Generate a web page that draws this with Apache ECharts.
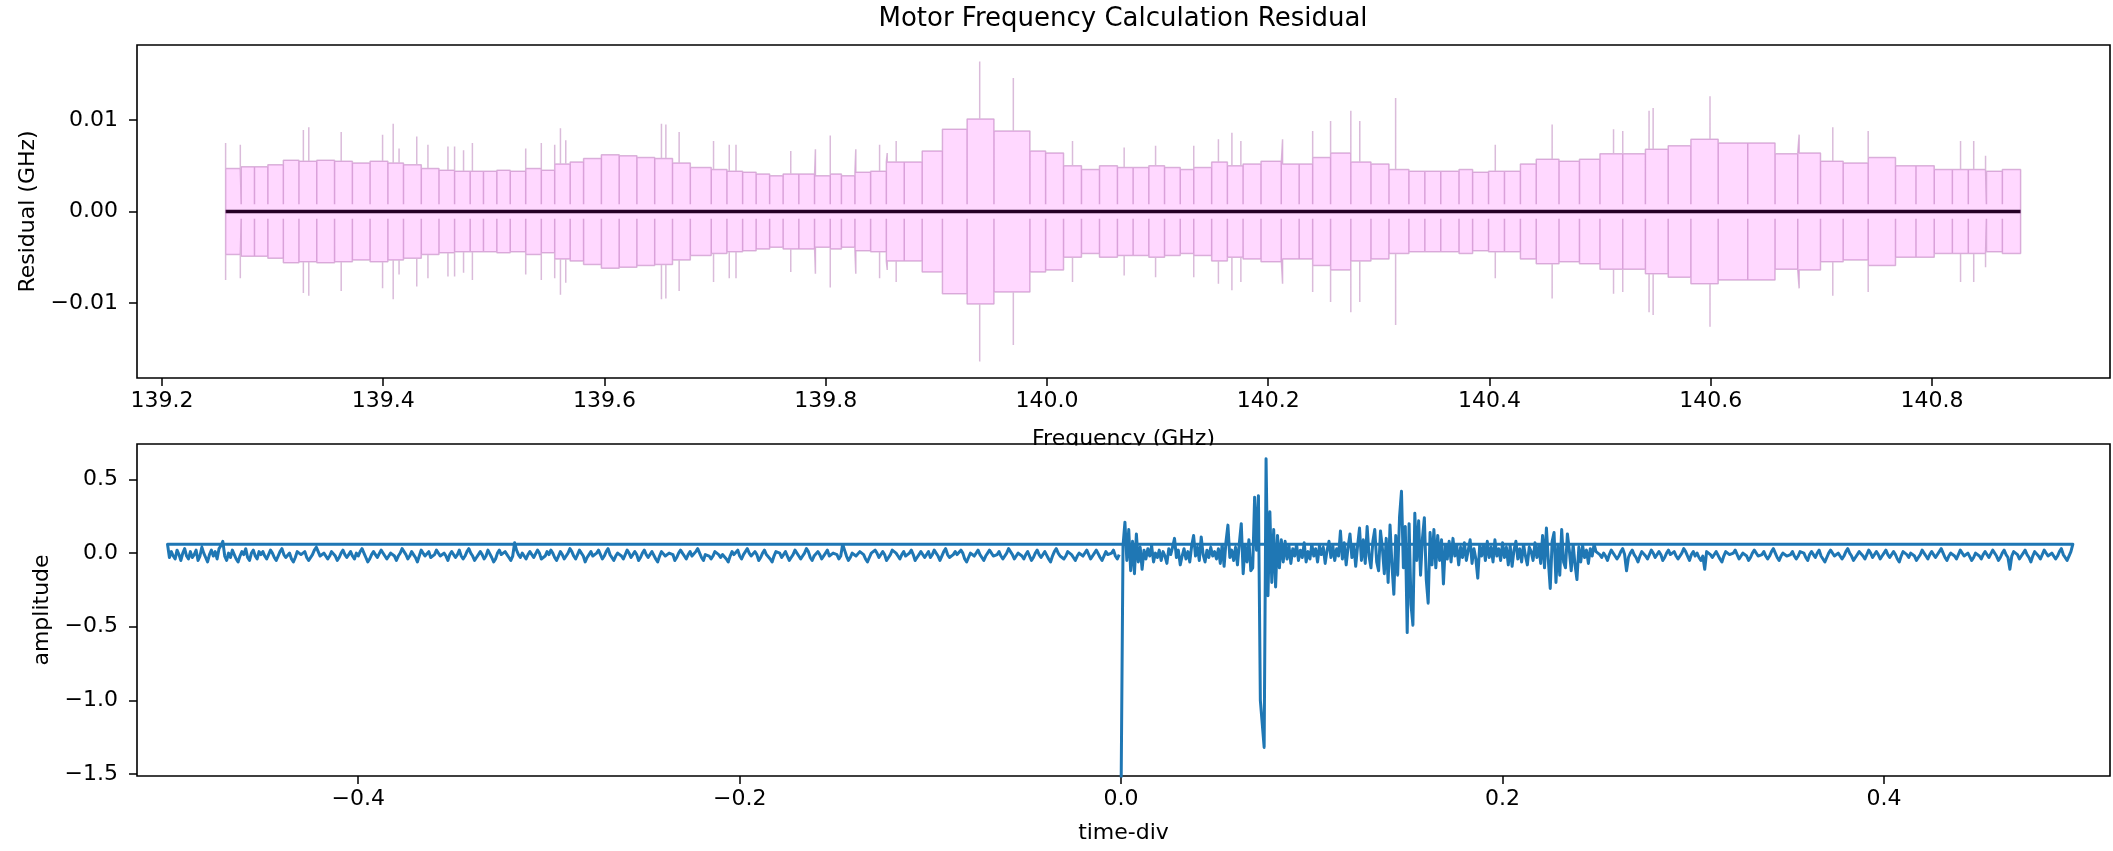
<!DOCTYPE html>
<html><head><meta charset="utf-8">
<script src="https://cdn.jsdelivr.net/npm/echarts@6/dist/echarts.min.js"></script>
<style>html,body{margin:0;padding:0;background:#fff}#c{width:2113px;height:851px}</style>
</head><body><div id="c"></div>
<script>
// ---------- top panel: residual envelope (GHz) ----------
const lobeEdges = [
  139.2575, 139.2716, 139.2836, 139.2957, 139.3097, 139.3238, 139.3399, 139.3560, 139.3721, 139.3881,
  139.4042, 139.4183, 139.4344, 139.4504, 139.4645, 139.4786, 139.4906, 139.5027, 139.5148, 139.5288,
  139.5429, 139.5550, 139.5690, 139.5811, 139.5972, 139.6133, 139.6293, 139.6454, 139.6615, 139.6776,
  139.6965, 139.7107, 139.7249, 139.7371, 139.7493, 139.7615, 139.7757, 139.7899, 139.8041, 139.8142,
  139.8264, 139.8406, 139.8548, 139.8710, 139.8872, 139.9055, 139.9278, 139.9521, 139.9846, 139.9988,
  140.0150, 140.0312, 140.0475, 140.0637, 140.0779, 140.0921, 140.1063, 140.1205, 140.1327, 140.1489,
  140.1631, 140.1773, 140.1935, 140.2118, 140.2280, 140.2402, 140.2564, 140.2747, 140.2929, 140.3092,
  140.3272, 140.3416, 140.3560, 140.3725, 140.3848, 140.3992, 140.4136, 140.4280, 140.4423, 140.4629,
  140.4814, 140.4999, 140.5205, 140.5410, 140.5616, 140.5821, 140.6068, 140.6335, 140.6582, 140.6787,
  140.6993, 140.7198, 140.7424, 140.7671, 140.7856, 140.8021, 140.8185, 140.8329, 140.8493, 140.8637,
  140.8802
];
const lobeTops = [
  0.0047, 0.0049, 0.0049, 0.0051, 0.0056, 0.0055, 0.0056, 0.0055, 0.0053, 0.0055,
  0.0053, 0.0051, 0.0047, 0.0045, 0.0044, 0.0044, 0.0044, 0.0045, 0.0044, 0.0047,
  0.0045, 0.0052, 0.0054, 0.0058, 0.0062, 0.0061, 0.0059, 0.0058, 0.0053, 0.0048,
  0.0046, 0.0044, 0.0043, 0.0041, 0.0039, 0.0041, 0.0041, 0.0039, 0.0041, 0.0039,
  0.0043, 0.0044, 0.0054, 0.0054, 0.0066, 0.0090, 0.0101, 0.0088, 0.0066, 0.0064,
  0.0050, 0.0046, 0.0050, 0.0048, 0.0048, 0.0050, 0.0048, 0.0046, 0.0048, 0.0054,
  0.0050, 0.0052, 0.0055, 0.0052, 0.0052, 0.0059, 0.0064, 0.0054, 0.0052, 0.0046,
  0.0044, 0.0044, 0.0044, 0.0046, 0.0043, 0.0044, 0.0044, 0.0052, 0.0057, 0.0055,
  0.0057, 0.0063, 0.0063, 0.0068, 0.0072, 0.0079, 0.0075, 0.0075, 0.0063, 0.0064,
  0.0055, 0.0053, 0.0059, 0.0050, 0.0050, 0.0046, 0.0046, 0.0046, 0.0044, 0.0046
];
const spikeFreq = [
  139.2575, 139.2708, 139.3278, 139.3327, 139.3620, 139.3994, 139.4090, 139.4143, 139.4303, 139.4404,
  139.4585, 139.4645, 139.4726, 139.4806, 139.5288, 139.5429, 139.5550, 139.5602, 139.5650, 139.6515,
  139.6555, 139.6675, 139.6986, 139.7128, 139.7189, 139.7684, 139.7907, 139.8041, 139.8272, 139.8487,
  139.8556, 139.8637, 139.9392, 139.9696, 140.0231, 140.0698, 140.0982, 140.1327, 140.1550, 140.1672,
  140.1753, 140.2130, 140.2402, 140.2564, 140.2747, 140.2828, 140.3152, 140.4053, 140.4567, 140.5122,
  140.5205, 140.5443, 140.5480, 140.5994, 140.6800, 140.7104, 140.7424, 140.8259, 140.8378, 140.8485
];
const spikeHeight = [
  0.0075, 0.0073, 0.0089, 0.0092, 0.0087, 0.0084, 0.0096, 0.0069, 0.0082, 0.0073,
  0.0071, 0.0071, 0.0067, 0.0075, 0.0069, 0.0075, 0.0073, 0.0091, 0.0078, 0.0096,
  0.0095, 0.0087, 0.0077, 0.0073, 0.0073, 0.0066, 0.0068, 0.0083, 0.0068, 0.0073,
  0.0064, 0.0077, 0.0164, 0.0146, 0.0077, 0.0070, 0.0072, 0.0072, 0.0079, 0.0086,
  0.0077, 0.0079, 0.0088, 0.0099, 0.0110, 0.0099, 0.0124, 0.0073, 0.0095, 0.0090,
  0.0088, 0.0110, 0.0113, 0.0126, 0.0084, 0.0092, 0.0088, 0.0077, 0.0077, 0.0061
];
const notchLevel = 0.0008;
const residualFreq = [139.2575, 140.8802];
const residualValue = [0, 0];
const freqTicks = [139.2, 139.4, 139.6, 139.8, 140.0, 140.2, 140.4, 140.6, 140.8];
const residualTicks = [-0.01, 0, 0.01];

// ---------- bottom panel: amplitude vs time-div ----------
const sampleStep = 0.001;
const ampFromZero = [ // t = 0, 0.001, ... 0.499
  -1.60, 0.05, 0.21, -0.05, 0.16, -0.12, 0.08, -0.14, 0.13, -0.06, 0.04, -0.11, 0.02, -0.04, 0.03, -0.02, 0.05, -0.06, 0.00, -0.03,
  0.02, -0.05, 0.01, -0.02, -0.07, 0.03, -0.01, 0.04, 0.10, -0.03, 0.02, -0.08, -0.02, 0.03, -0.04, 0.01, -0.06, 0.05, 0.12, -0.02,
  0.04, -0.05, 0.11, -0.01, -0.06, 0.02, -0.03, 0.04, -0.02, 0.01,
  -0.04, 0.03, -0.07, 0.06, -0.09, 0.08, 0.19, -0.03, 0.02, -0.05, 0.04, -0.08, 0.07, 0.20, -0.14, 0.05, -0.06, 0.09, -0.12, -0.10,
  0.38, 0.02, 0.39, -1.00, -1.01, -1.32, 0.64, -0.29, 0.28, -0.20, 0.16, -0.23, 0.12, -0.10, 0.09, -0.06, 0.08, -0.04, 0.05, -0.07,
  0.03, -0.02, 0.06, -0.05, 0.02, -0.03, 0.07, -0.06, 0.01, -0.04,
  0.06, -0.02, 0.03, -0.06, 0.05, -0.01, 0.04, -0.07, 0.02, 0.08, -0.03, 0.05, -0.05, 0.03, -0.02, 0.15, -0.04, 0.07, -0.08, 0.04,
  0.13, -0.03, 0.06, -0.09, 0.05, 0.17, -0.05, 0.09, -0.07, 0.18, -0.02, -0.10, 0.08, 0.16, -0.06, -0.12, 0.15, 0.03, -0.14, 0.10,
  -0.20, 0.19, -0.08, -0.28, 0.12, -0.15, 0.25, 0.42, -0.10, 0.18,
  -0.54, 0.20, -0.35, -0.49, 0.27, -0.05, 0.22, -0.15, 0.10, 0.24, -0.18, -0.34, 0.14, -0.08, 0.16, -0.10, 0.12, -0.05, 0.09, -0.21,
  0.06, -0.04, 0.08, -0.06, 0.10, -0.02, 0.05, -0.08, 0.04, -0.03, 0.07, -0.05, 0.02, 0.09, -0.07, 0.03, -0.04, -0.17, 0.05, -0.02,
  0.06, -0.05, 0.08, -0.03, 0.04, -0.06, 0.09, -0.02, 0.03, -0.05,
  0.07, -0.03, 0.04, -0.08, 0.05, -0.09, 0.02, 0.08, -0.04, 0.03, -0.06, 0.06, -0.02, -0.08, 0.04, 0.01, -0.05, 0.07, -0.03, 0.05,
  -0.07, 0.12, -0.10, 0.17, -0.05, -0.24, 0.08, 0.14, -0.20, 0.05, -0.15, 0.16, -0.06, -0.10, 0.13, 0.02, -0.12, 0.06, -0.08, -0.18,
  0.04, -0.06, 0.05, -0.03, 0.02, -0.07, 0.03, -0.02, 0.06, 0.01,
  0.02, -0.01, -0.03, 0.00, -0.02, -0.05, -0.01, 0.02, 0.01, -0.02, -0.04, -0.02, 0.01, 0.03, -0.01, -0.12, -0.03, 0.00, 0.02, -0.01,
  -0.03, -0.06, -0.02, 0.01, 0.00, -0.02, -0.04, -0.01, 0.02, 0.00, -0.03, -0.02, 0.01, -0.01, -0.05, -0.03, 0.00, 0.02, -0.01, -0.02,
  0.01, -0.02, -0.04, -0.03, 0.00, 0.03, 0.01, -0.02, -0.05, -0.01,
  0.01, -0.02, 0.00, -0.03, -0.05, -0.02, -0.11, 0.01, 0.02, -0.01, -0.03, -0.02, 0.01, 0.00, -0.04, -0.06, -0.02, 0.01, 0.02, -0.01,
  -0.02, 0.00, 0.02, -0.01, -0.04, -0.03, 0.00, 0.01, -0.02, -0.05, -0.03, 0.00, 0.02, 0.01, -0.02, -0.03, -0.01, 0.01, -0.02, -0.04,
  -0.02, 0.01, 0.03, 0.00, -0.03, -0.05, -0.02, 0.00, 0.01, -0.02,
  -0.03, -0.01, 0.01, -0.02, -0.04, -0.02, 0.01, 0.02, 0.00, -0.03, -0.05, -0.01, 0.01, -0.01, -0.03, 0.00, 0.02, -0.02, -0.04, -0.06,
  -0.03, 0.00, 0.02, 0.01, -0.02, -0.03, 0.00, -0.01, -0.04, -0.02, 0.01, 0.03, 0.00, -0.02, -0.05, -0.03, -0.01, 0.01, 0.00, -0.02,
  -0.04, -0.01, 0.02, 0.00, -0.03, -0.02, 0.01, -0.01, -0.04, -0.02,
  0.00, 0.02, -0.01, -0.03, -0.02, 0.01, -0.01, -0.04, -0.06, -0.02, 0.01, 0.02, -0.01, -0.03, 0.00, 0.01, -0.02, -0.05, -0.03, -0.01,
  0.02, 0.00, -0.02, -0.04, -0.01, 0.01, -0.01, -0.03, -0.02, 0.01, 0.03, 0.00, -0.03, -0.05, -0.02, 0.00, 0.01, -0.02, -0.04, -0.01,
  0.02, 0.01, -0.02, -0.03, 0.00, -0.01, -0.05, -0.03, 0.00, 0.01,
  -0.02, -0.04, -0.01, 0.01, 0.00, -0.03, -0.02, 0.02, 0.01, -0.02, -0.05, -0.03, 0.00, 0.02, -0.01, -0.03, -0.11, -0.02, 0.01, 0.02,
  -0.01, -0.04, -0.02, 0.00, 0.02, -0.01, -0.03, -0.06, -0.02, 0.01, 0.00, -0.02, -0.04, -0.01, 0.02, 0.01, -0.02, -0.03, 0.00, -0.01,
  -0.04, -0.02, 0.01, 0.03, -0.01, -0.03, -0.05, -0.02, 0.01, 0.06
];
const ampFromMinusHalf = [ // t = -0.5, -0.499, ... -0.001
  0.06, -0.03, 0.01, -0.02, -0.04, 0.02, -0.01, -0.05, 0.00, 0.03, -0.02, -0.04, 0.01, -0.03, -0.01, 0.02, -0.05, -0.02, 0.04, 0.00,
  -0.03, -0.06, -0.01, 0.02, -0.02, 0.01, -0.04, 0.03, 0.05, 0.08, -0.02, -0.05, 0.00, -0.03, 0.02, -0.01, -0.04, -0.06, -0.02, 0.01,
  -0.01, 0.03, -0.03, -0.05, 0.00, 0.02, -0.02, -0.04, 0.01, -0.01,
  0.01, -0.02, -0.04, -0.01, 0.02, 0.00, -0.03, -0.05, -0.02, 0.01, 0.03, -0.01, -0.03, -0.02, 0.00, -0.04, -0.06, -0.03, 0.01, 0.02,
  -0.01, -0.02, 0.01, -0.03, -0.05, -0.04, -0.01, 0.02, 0.04, 0.01, -0.02, -0.03, 0.00, -0.01, -0.04, -0.02, 0.01, 0.00, -0.02, -0.05,
  -0.03, 0.00, 0.02, -0.01, -0.03, -0.01, 0.01, -0.02, -0.04, 0.00,
  -0.02, 0.01, 0.03, 0.00, -0.03, -0.06, -0.04, -0.01, 0.01, -0.01, -0.03, -0.02, 0.02, 0.01, -0.02, -0.04, -0.03, 0.00, 0.01, -0.02,
  -0.05, -0.02, 0.00, 0.03, 0.01, -0.01, -0.04, -0.02, 0.01, -0.01, -0.03, -0.06, -0.02, 0.02, 0.00, -0.02, -0.01, 0.01, -0.03, -0.04,
  -0.01, 0.02, 0.01, -0.02, -0.03, 0.00, -0.02, -0.05, -0.01, 0.01,
  0.00, -0.03, -0.01, 0.02, -0.02, -0.04, -0.02, 0.01, 0.03, 0.00, -0.02, -0.05, -0.03, -0.01, 0.01, -0.01, -0.04, -0.02, 0.02, 0.01,
  -0.03, -0.06, -0.04, 0.00, 0.02, -0.01, -0.02, 0.01, -0.01, -0.03, -0.05, -0.02, 0.07, 0.02, -0.01, -0.03, 0.00, -0.02, -0.04, -0.01,
  0.01, 0.00, -0.03, -0.02, 0.02, 0.00, -0.04, -0.05, -0.02, 0.01,
  -0.01, 0.02, 0.00, -0.03, -0.05, -0.02, 0.01, -0.01, -0.04, -0.03, 0.00, 0.03, 0.01, -0.02, -0.04, -0.01, 0.02, 0.00, -0.02, -0.06,
  -0.03, -0.01, 0.01, -0.02, -0.03, 0.00, 0.02, -0.01, -0.04, -0.02, 0.01, 0.03, -0.01, -0.03, -0.05, -0.02, 0.00, 0.01, -0.02, -0.04,
  -0.01, 0.02, 0.00, -0.03, -0.02, 0.01, -0.01, -0.05, -0.03, 0.00,
  0.02, -0.01, -0.03, -0.02, 0.01, 0.00, -0.04, -0.06, -0.02, 0.01, 0.02, -0.02, -0.03, 0.00, 0.01, -0.01, -0.05, -0.03, 0.00, 0.02,
  0.00, -0.02, -0.04, -0.01, 0.01, -0.02, -0.03, 0.01, 0.03, 0.00, -0.03, -0.05, -0.01, 0.00, -0.02, -0.04, -0.02, 0.01, 0.02, -0.01,
  -0.03, -0.01, 0.00, -0.04, -0.06, -0.02, 0.01, -0.01, -0.02, 0.02,
  -0.02, -0.04, -0.01, 0.01, 0.03, 0.00, -0.02, -0.03, 0.01, -0.01, -0.05, -0.03, 0.00, 0.02, -0.01, -0.02, -0.04, -0.06, -0.02, 0.01,
  0.02, 0.00, -0.03, -0.01, 0.01, -0.02, -0.05, -0.03, -0.01, 0.02, 0.01, -0.02, -0.04, -0.02, 0.00, 0.03, 0.01, -0.03, -0.05, -0.02,
  -0.01, 0.01, -0.01, -0.04, -0.03, 0.00, 0.02, -0.02, -0.03, 0.00,
  0.01, -0.01, -0.04, -0.02, 0.06, 0.02, -0.02, -0.05, -0.03, 0.00, 0.01, -0.02, -0.03, 0.01, 0.02, -0.01, -0.04, -0.06, -0.03, 0.00,
  -0.01, 0.02, 0.00, -0.03, -0.02, 0.01, -0.01, -0.05, -0.04, -0.01, 0.02, 0.03, 0.00, -0.02, -0.04, -0.01, 0.01, -0.02, -0.03, 0.00,
  0.02, -0.01, -0.05, -0.03, -0.01, 0.01, 0.00, -0.03, -0.02, 0.01,
  -0.03, -0.01, 0.02, 0.00, -0.02, -0.05, -0.02, 0.01, 0.03, -0.01, -0.03, -0.04, -0.01, 0.01, -0.01, -0.02, 0.02, 0.00, -0.04, -0.06,
  -0.03, 0.00, 0.01, -0.02, -0.01, 0.02, -0.01, -0.03, -0.05, -0.02, 0.00, 0.02, 0.01, -0.02, -0.03, -0.01, 0.01, -0.02, -0.04, -0.03,
  0.00, 0.03, 0.01, -0.01, -0.04, -0.02, 0.00, 0.01, -0.02, -0.04,
  -0.01, 0.01, -0.02, -0.05, -0.03, 0.00, 0.02, -0.01, -0.03, -0.02, 0.01, 0.00, -0.04, -0.06, -0.02, 0.01, 0.03, 0.00, -0.02, -0.01,
  -0.04, -0.02, 0.01, 0.02, -0.01, -0.03, -0.05, -0.02, 0.00, 0.01, -0.02, -0.01, 0.02, -0.01, -0.04, -0.03, 0.00, 0.02, 0.01, -0.03,
  -0.05, -0.02, 0.01, -0.01, -0.02, 0.00, 0.02, -0.02, -0.04, -0.01
];
const timeTicks = [-0.4, -0.2, 0, 0.2, 0.4];
const ampTicks = [-1.5, -1.0, -0.5, 0, 0.5];

// ---------- build series data ----------
function buildEnvelope() {
  const pts = [[lobeEdges[0], 0]];
  for (let i = 0; i < lobeTops.length; i++) {
    const a = lobeEdges[i], b = lobeEdges[i + 1], h = lobeTops[i];
    pts.push([a, notchLevel], [a, h]);
    spikeFreq.forEach((f, k) => {
      if (f >= a && f < b) pts.push([f, h], [f, spikeHeight[k]], [f, h]);
    });
    pts.push([b, h]);
  }
  pts.push([lobeEdges[lobeEdges.length - 1], 0]);
  return pts;
}
const upper = buildEnvelope();
const lower = upper.map(p => [p[0], -p[1]]);
const residualLine = residualFreq.map((f, i) => [f, residualValue[i]]);
const signal = ampFromZero.map((v, i) => [i * sampleStep, v])
  .concat(ampFromMinusHalf.map((v, i) => [-0.5 + i * sampleStep, v]));

const FONT = 'DejaVu Sans';
const fmt = d => v => (v < 0 ? '\u2212' : '') + Math.abs(v).toFixed(d);
const labelStyle = (d, margin, ticks) => ({
  customValues: ticks, formatter: fmt(d), fontSize: 22, fontFamily: FONT, color: '#000', margin: margin
});
const tickStyle = ticks => ({ customValues: ticks, length: 8, lineStyle: { color: '#000', width: 1.5 } });
const nameStyle = { fontSize: 22, fontFamily: FONT, color: '#000' };
const noLine = { show: false, onZero: false };

const chart = echarts.init(document.getElementById('c'));
chart.setOption({
  animation: false,
  backgroundColor: '#fff',
  title: {
    text: 'Motor Frequency Calculation Residual',
    left: 1123, top: 6, padding: 0, textAlign: 'center',
    textStyle: { fontSize: 26, fontWeight: 'normal', fontFamily: FONT, color: '#000' }
  },
  grid: [
    { left: 137, right: 3, top: 45, height: 333, show: true, borderColor: '#000', borderWidth: 1.6 },
    { left: 137, right: 3, top: 444, height: 332, show: true, borderColor: '#000', borderWidth: 1.6 }
  ],
  graphic: [
    { type: 'rect', silent: true, z: 1, shape: { x: 139, y: 445.5, width: 1969.5, height: 329 }, style: { fill: '#fff' } }
  ],
  xAxis: [
    { type: 'value', gridIndex: 0, min: 139.1774, max: 140.961,
      axisLine: noLine, splitLine: { show: false },
      axisTick: tickStyle(freqTicks), axisLabel: labelStyle(1, 12, freqTicks),
      name: 'Frequency (GHz)', nameLocation: 'middle', nameGap: 50, nameTextStyle: nameStyle },
    { type: 'value', gridIndex: 1, min: -0.516, max: 0.5185,
      axisLine: noLine, splitLine: { show: false },
      axisTick: tickStyle(timeTicks), axisLabel: labelStyle(1, 12, timeTicks),
      name: 'time-div', nameLocation: 'middle', nameGap: 46, nameTextStyle: nameStyle }
  ],
  yAxis: [
    { type: 'value', gridIndex: 0, min: -0.0182, max: 0.0182,
      axisLine: noLine, splitLine: { show: false },
      axisTick: tickStyle(residualTicks), axisLabel: labelStyle(2, 19, residualTicks),
      name: 'Residual (GHz)', nameLocation: 'middle', nameGap: 98, nameTextStyle: nameStyle },
    { type: 'value', gridIndex: 1, min: -1.514, max: 0.741,
      axisLine: noLine, splitLine: { show: false },
      axisTick: tickStyle(ampTicks), axisLabel: labelStyle(1, 19, ampTicks),
      name: 'amplitude', nameLocation: 'middle', nameGap: 82, nameTextStyle: nameStyle }
  ],
  series: [
    { type: 'line', xAxisIndex: 0, yAxisIndex: 0, data: residualLine, showSymbol: false, z: 2,
      lineStyle: { color: '#000', width: 3.3 } },
    { type: 'line', xAxisIndex: 0, yAxisIndex: 0, data: upper, showSymbol: false, z: 3,
      lineStyle: { color: 'rgba(150,60,150,0.35)', width: 1.5 },
      areaStyle: { color: 'rgba(255,0,255,0.22)', origin: 0 } },
    { type: 'line', xAxisIndex: 0, yAxisIndex: 0, data: lower, showSymbol: false, z: 3,
      lineStyle: { color: 'rgba(150,60,150,0.35)', width: 1.5 },
      areaStyle: { color: 'rgba(255,0,255,0.22)', origin: 0 } },
    { type: 'line', xAxisIndex: 1, yAxisIndex: 1, data: signal, showSymbol: false, z: 2, clip: true,
      lineStyle: { color: '#1f77b4', width: 3, join: 'round' } }
  ]
});
</script>
</body></html>
